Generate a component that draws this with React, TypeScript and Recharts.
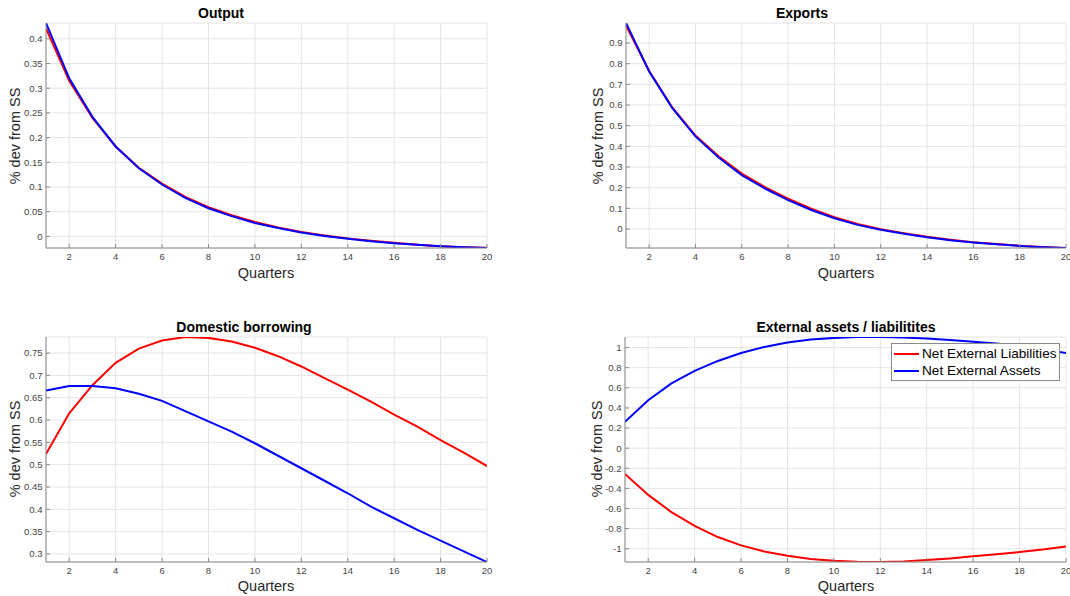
import React from 'react';
import { LineChart, Line, XAxis, YAxis, CartesianGrid, Legend } from 'recharts';

const quarters = [1, 2, 3, 4, 5, 6, 7, 8, 9, 10, 11, 12, 13, 14, 15, 16, 17, 18, 19, 20];
const xTicks = [2, 4, 6, 8, 10, 12, 14, 16, 18, 20];

const outputRed = [0.421, 0.315, 0.240, 0.182, 0.139, 0.107, 0.080, 0.059, 0.043, 0.029, 0.018, 0.009, 0.002, -0.004, -0.009, -0.013, -0.017, -0.020, -0.022, -0.023];
const outputBlue = [0.432, 0.320, 0.242, 0.182, 0.138, 0.105, 0.078, 0.057, 0.041, 0.027, 0.017, 0.008, 0.001, -0.005, -0.010, -0.014, -0.017, -0.020, -0.022, -0.0235];
const outputTicks = [0, 0.05, 0.1, 0.15, 0.2, 0.25, 0.3, 0.35, 0.4];

const exportsRed = [0.985, 0.765, 0.588, 0.452, 0.352, 0.268, 0.203, 0.147, 0.098, 0.057, 0.024, -0.001, -0.020, -0.038, -0.052, -0.064, -0.073, -0.081, -0.087, -0.092];
const exportsBlue = [0.997, 0.762, 0.585, 0.448, 0.346, 0.261, 0.196, 0.140, 0.092, 0.052, 0.020, -0.004, -0.023, -0.040, -0.054, -0.065, -0.074, -0.082, -0.088, -0.092];
const exportsTicks = [0, 0.1, 0.2, 0.3, 0.4, 0.5, 0.6, 0.7, 0.8, 0.9];

const borrowRed = [0.524, 0.615, 0.678, 0.728, 0.760, 0.778, 0.786, 0.784, 0.776, 0.762, 0.743, 0.720, 0.694, 0.668, 0.641, 0.612, 0.585, 0.555, 0.527, 0.497];
const borrowBlue = [0.666, 0.676, 0.676, 0.671, 0.659, 0.643, 0.620, 0.597, 0.574, 0.548, 0.520, 0.492, 0.464, 0.436, 0.406, 0.380, 0.354, 0.330, 0.306, 0.282];
const borrowTicks = [0.3, 0.35, 0.4, 0.45, 0.5, 0.55, 0.6, 0.65, 0.7, 0.75];

const extRed = [-0.256, -0.465, -0.636, -0.772, -0.884, -0.967, -1.027, -1.070, -1.102, -1.120, -1.130, -1.132, -1.126, -1.112, -1.096, -1.076, -1.056, -1.033, -1.008, -0.977];
const extBlue = [0.262, 0.477, 0.643, 0.768, 0.867, 0.946, 1.006, 1.050, 1.080, 1.096, 1.105, 1.105, 1.099, 1.090, 1.076, 1.058, 1.040, 1.015, 0.982, 0.945];
const extTicks = [-1, -0.8, -0.6, -0.4, -0.2, 0, 0.2, 0.4, 0.6, 0.8, 1];

const seriesNames = ['Net External Liabilities', 'Net External Assets'];

const FONT = '"Liberation Sans", Arial, Helvetica, sans-serif';
const RED = '#ff0000';
const BLUE = '#0000ff';
const FRAME = '#8a8a8a';
const GRID = '#e4e4e4';
const TICKTXT = '#444444';

function rows(red: number[], blue: number[]) {
  return quarters.map((q, i) => ({ q, red: red[i], blue: blue[i] }));
}

type PanelProps = {
  left: number;
  top: number;
  width: number;
  height: number;
  plotLeft: number;
  plotTop: number;
  plotRight: number;
  plotBottom: number;
  domain: [number, number];
  yTicks: number[];
  red: number[];
  blue: number[];
  legend?: boolean;
};

const LegendContent = (props: any) => {
  const payload = ([...(props.payload || [])] as any[]).sort(
    (a, b) => seriesNames.indexOf(a.value) - seriesNames.indexOf(b.value)
  );
  return (
    <div
      style={{
        border: '1px solid #8a8a8a',
        background: '#fff',
        padding: '1px 2px 1px 2px',
        fontFamily: FONT,
        fontSize: 13.6,
        color: '#000',
        width: 169,
        boxSizing: 'border-box',
        textAlign: 'left',
      }}
    >
      {payload.map((p: any, i: number) => (
        <div key={i} style={{ display: 'flex', alignItems: 'center', height: 17, whiteSpace: 'nowrap' }}>
          <svg width={26} height={4} style={{ marginRight: 2 }}>
            <line x1={0} y1={2} x2={25} y2={2} stroke={p.color} strokeWidth={2} />
          </svg>
          <span>{p.value}</span>
        </div>
      ))}
    </div>
  );
};

function Panel(p: PanelProps) {
  const data = rows(p.red, p.blue);
  const yW = p.plotLeft - p.left;
  const xH = p.top + p.height - p.plotBottom;
  const mTop = p.plotTop - p.top;
  const mRight = p.left + p.width - p.plotRight;
  return (
    <div style={{ position: 'absolute', left: p.left, top: p.top, width: p.width, height: p.height }}>
      <LineChart
        width={p.width}
        height={p.height}
        data={data}
        margin={{ top: mTop, right: mRight, left: 0, bottom: 0 }}
      >
        <CartesianGrid stroke={GRID} strokeWidth={1} />
        <XAxis
          dataKey="q"
          type="number"
          domain={[1, 20]}
          ticks={xTicks}
          allowDataOverflow
          height={xH}
          stroke={FRAME}
          tickSize={-4}
          tickMargin={9}
          tick={{ fill: TICKTXT, fontSize: 9.5, fontFamily: FONT }}
          interval={0}
        />
        <XAxis
          xAxisId="top"
          dataKey="q"
          type="number"
          orientation="top"
          domain={[1, 20]}
          ticks={xTicks}
          allowDataOverflow
          height={0}
          stroke={FRAME}
          tickSize={-4}
          tick={false}
        />
        <YAxis
          type="number"
          domain={p.domain}
          ticks={p.yTicks}
          allowDataOverflow
          width={yW}
          stroke={FRAME}
          tickSize={-4}
          tickMargin={7.5}
          tick={{ fill: TICKTXT, fontSize: 9.5, fontFamily: FONT }}
          tickFormatter={(v: number) => String(v)}
          interval={0}
        />
        <YAxis
          yAxisId="right"
          type="number"
          orientation="right"
          domain={p.domain}
          ticks={p.yTicks}
          allowDataOverflow
          width={0}
          stroke={FRAME}
          tickSize={-4}
          tick={false}
        />
        <Line
          type="linear"
          dataKey="red"
          name={seriesNames[0]}
          stroke={RED}
          strokeWidth={2}
          dot={false}
          isAnimationActive={false}
        />
        <Line
          type="linear"
          dataKey="blue"
          name={seriesNames[1]}
          stroke={BLUE}
          strokeWidth={2}
          dot={false}
          isAnimationActive={false}
        />
        {p.legend && (
          <Legend
            layout="vertical"
            verticalAlign="middle"
            align="center"
            content={LegendContent}
            wrapperStyle={{ top: 33, left: 321, width: 169, right: 'auto', bottom: 'auto' }}
          />
        )}
      </LineChart>
    </div>
  );
}

const titleStyle: React.CSSProperties = {
  position: 'absolute',
  width: 400,
  textAlign: 'center',
  fontFamily: FONT,
  fontWeight: 'bold',
  fontSize: 14,
  lineHeight: '16px',
  color: '#000',
  whiteSpace: 'nowrap',
};

const labelStyle: React.CSSProperties = {
  position: 'absolute',
  fontFamily: FONT,
  fontSize: 14.5,
  lineHeight: '16px',
  color: '#262626',
  whiteSpace: 'nowrap',
};

function Title({ cx, cy, text }: { cx: number; cy: number; text: string }) {
  return <div style={{ ...titleStyle, left: cx - 200, top: cy - 8 }}>{text}</div>;
}

function XLabel({ cx, cy }: { cx: number; cy: number }) {
  return (
    <div style={{ ...labelStyle, left: cx, top: cy, transform: 'translate(-50%, -50%)' }}>Quarters</div>
  );
}

function YLabel({ cx, cy }: { cx: number; cy: number }) {
  return (
    <div style={{ ...labelStyle, left: cx, top: cy, transform: 'translate(-50%, -50%) rotate(-90deg)' }}>
      % dev from SS
    </div>
  );
}

export default function App() {
  return (
    <div
      style={{
        position: 'absolute',
        left: 0,
        top: 0,
        width: 1070,
        height: 596,
        background: '#fff',
        overflow: 'hidden',
      }}
    >
      <Panel
        left={0}
        top={0}
        width={535}
        height={300}
        plotLeft={46}
        plotTop={23}
        plotRight={487}
        plotBottom={248}
        domain={[-0.0235, 0.432]}
        yTicks={outputTicks}
        red={outputRed}
        blue={outputBlue}
      />
      <Panel
        left={570}
        top={0}
        width={500}
        height={300}
        plotLeft={626}
        plotTop={23}
        plotRight={1066}
        plotBottom={248}
        domain={[-0.092, 0.997]}
        yTicks={exportsTicks}
        red={exportsRed}
        blue={exportsBlue}
      />
      <Panel
        left={0}
        top={310}
        width={535}
        height={286}
        plotLeft={46}
        plotTop={337}
        plotRight={487}
        plotBottom={562}
        domain={[0.282, 0.786]}
        yTicks={borrowTicks}
        red={borrowRed}
        blue={borrowBlue}
      />
      <Panel
        left={570}
        top={310}
        width={500}
        height={286}
        plotLeft={625}
        plotTop={337}
        plotRight={1066}
        plotBottom={562}
        domain={[-1.132, 1.105]}
        yTicks={extTicks}
        red={extRed}
        blue={extBlue}
        legend
      />

      <Title cx={221} cy={13} text="Output" />
      <Title cx={802} cy={13} text="Exports" />
      <Title cx={244} cy={327} text="Domestic borrowing" />
      <Title cx={846} cy={327} text="External assets / liabilitites" />

      <XLabel cx={266} cy={273} />
      <XLabel cx={846} cy={273} />
      <XLabel cx={266} cy={586} />
      <XLabel cx={846} cy={586} />

      <YLabel cx={15} cy={136} />
      <YLabel cx={598} cy={136} />
      <YLabel cx={15} cy={449} />
      <YLabel cx={597} cy={449} />
    </div>
  );
}
